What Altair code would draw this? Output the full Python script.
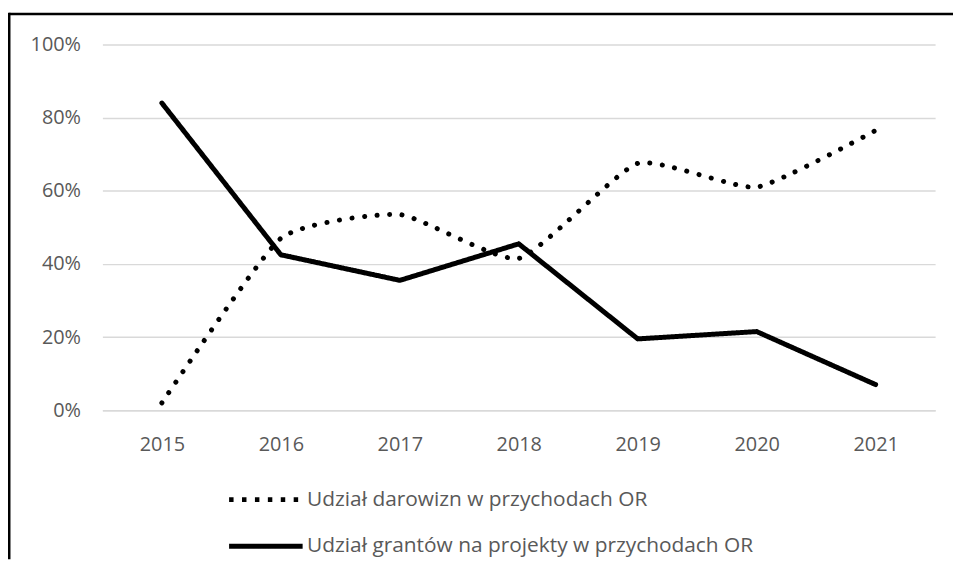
import altair as alt
import pandas as pd

years = ["2015", "2016", "2017", "2018", "2019", "2020", "2021"]
darowizny = [0.02, 0.47, 0.535, 0.415, 0.675, 0.61, 0.765]
granty = [0.84, 0.425, 0.355, 0.455, 0.195, 0.215, 0.07]
s1 = "Udział darowizn w przychodach OR"
s2 = "Udział grantów na projekty w przychodach OR"

df = pd.DataFrame({
    "year": years * 2,
    "value": darowizny + granty,
    "series": [s1] * len(years) + [s2] * len(years),
})

W, H = 838, 368
PL, PT, PR, PB = 95, 35, 18, 150
FONT = "Open Sans"
GRAY = "#595959"

x = alt.X("year:O", scale=alt.Scale(type="point", padding=0.5),
          axis=alt.Axis(title=None, labelAngle=0, ticks=False, domain=True,
                        domainColor="#d9d9d9", domainWidth=1.5,
                        labelPadding=25, labelFontSize=20, labelColor=GRAY,
                        labelFont=FONT))
y = alt.Y("value:Q", scale=alt.Scale(domain=[0, 1]),
          axis=alt.Axis(title=None, format=".0%", values=[0, 0.2, 0.4, 0.6, 0.8, 1.0],
                        ticks=False, domain=False, grid=True, gridColor="#d9d9d9",
                        gridWidth=1.5, labelPadding=22, labelFontSize=20,
                        labelColor=GRAY, labelFont=FONT))
dash = alt.StrokeDash("series:N",
                      scale=alt.Scale(domain=[s1, s2], range=[[4.5, 8.5], [1, 0]]),
                      legend=alt.Legend(title=None, orient="none", legendX=125, legendY=448,
                                        direction="vertical", symbolType="stroke",
                                        symbolSize=5476, symbolStrokeWidth=5,
                                        symbolStrokeColor="black", clipHeight=20,
                                        rowPadding=26, labelOffset=2, padding=0,
                                        labelFontSize=21, labelColor=GRAY, labelFont=FONT,
                                        labelLimit=600))

base = alt.Chart(df)
dotted = base.transform_filter(alt.datum.series == s1).mark_line(
    color="black", strokeWidth=5, strokeCap="round", strokeDash=[0.1, 12.6],
    interpolate="cardinal", tension=0.5
).encode(x=x, y=y)
solid = base.transform_filter(alt.datum.series == s2).mark_line(
    color="black", strokeWidth=5, strokeCap="round", strokeJoin="round"
).encode(x=x, y=y, strokeDash=dash)

one = alt.Data(values=[{"a": 1}])
frame_top = alt.Chart(one).mark_rule(color="black", strokeWidth=2.5).encode(
    x=alt.value(-PL + 1.25), x2=alt.value(W + PR), y=alt.value(-PT + 4.2))
frame_left = alt.Chart(one).mark_rule(color="black", strokeWidth=2.5).encode(
    x=alt.value(-PL + 1.25), y=alt.value(-PT + 3), y2=alt.value(H + PB))

chart = alt.layer(dotted, solid, frame_top, frame_left).properties(
    width=W, height=H,
    autosize=alt.AutoSizeParams(type="none"),
    padding={"left": PL, "top": PT, "right": PR, "bottom": PB},
).configure_view(stroke=None)

chart.save("out.html", embed_options={"renderer": "svg", "actions": False})
